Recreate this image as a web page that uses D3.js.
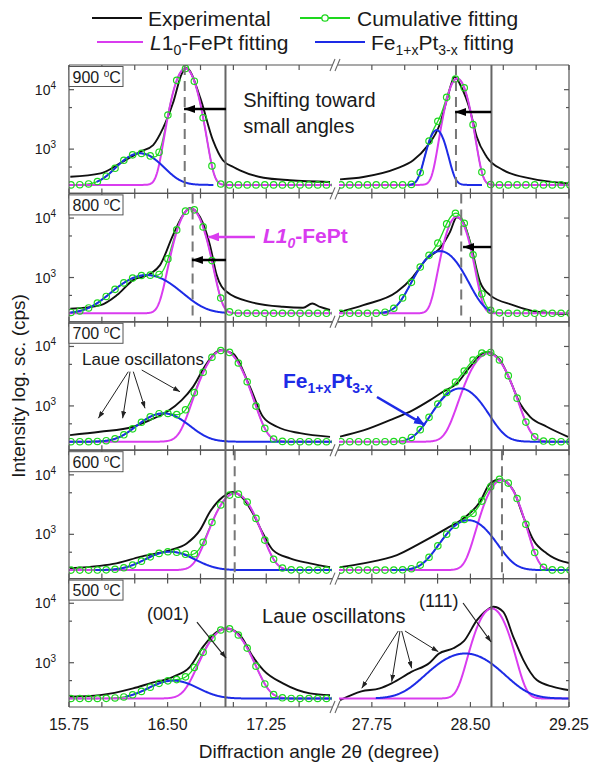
<!DOCTYPE html>
<html>
<head>
<meta charset="utf-8">
<script src="https://cdn.jsdelivr.net/npm/d3@7"></script>
<style>
  body { margin: 0; background: #fff; }
  text { font-family: "Liberation Sans", Arial, sans-serif; fill: #1a1a1a; }
</style>
</head>
<body>
<svg id="chart" width="590" height="765"></svg>
<script>
// ---------------- data ----------------
const panelTemps = ["900", "800", "700", "600", "500"];

// measured XRD scans: [2theta (deg), intensity (cps)]
const exp900L = [[15.76,343],[15.99,390],[16.14,580],[16.29,900],[16.39,1170],[16.465,2250],[16.54,5900],[16.61,19000],[16.645,23000],[16.746,7500],[16.845,1400],[16.92,650],[17.0,500],[17.05,440],[17.23,330],[17.43,300],[17.735,280]];
const exp900R = [[27.508,310],[27.685,340],[27.94,474],[28.065,650],[28.167,1090],[28.269,2700],[28.32,6650],[28.38,16400],[28.43,11200],[28.497,4520],[28.548,1610],[28.624,740],[28.75,444],[28.954,322],[29.243,265]];
const exp800L = [[15.76,298],[15.99,344],[16.115,506],[16.237,905],[16.366,1150],[16.442,1615],[16.541,5170],[16.617,11200],[16.67,14800],[16.746,10400],[16.822,3500],[16.873,1100],[16.949,575],[17.126,390],[17.377,322],[17.53,310],[17.60,365],[17.66,320],[17.735,284]];
const exp800R = [[27.508,265],[27.685,344],[27.941,575],[28.063,1030],[28.17,2095],[28.269,3120],[28.345,5860],[28.396,10300],[28.444,8630],[28.497,3980],[28.573,847],[28.649,506],[28.824,344],[29.007,265],[29.243,242]];
const exp700L = [[15.758,323],[15.986,367],[16.237,446],[16.366,577],[16.495,796],[16.607,1250],[16.693,2095],[16.797,5180],[16.898,8670],[16.997,7620],[17.126,2095],[17.225,656],[17.332,446],[17.507,348],[17.735,302]];
const exp700R = [[27.508,305],[27.685,387],[27.888,577],[28.063,850],[28.193,1250],[28.291,1730],[28.396,2370],[28.497,4540],[28.624,8100],[28.725,5900],[28.801,2715],[28.877,1100],[28.954,656],[29.081,446],[29.243,302]];
const exp600L = [[15.758,270],[15.986,295],[16.11,325],[16.29,418],[16.518,542],[16.645,703],[16.746,1176],[16.822,2390],[16.921,4270],[16.997,5180],[17.073,4010],[17.149,2240],[17.225,1035],[17.301,542],[17.431,394],[17.583,325],[17.735,280]];
const exp600R = [[27.508,280],[27.685,325],[27.941,447],[28.116,703],[28.32,1256],[28.446,1850],[28.573,3520],[28.649,7180],[28.725,8350],[28.826,5500],[28.903,1970],[28.979,800],[29.081,477],[29.207,347],[29.25,330]];
const exp500L = [[15.758,268],[15.986,285],[16.237,370],[16.366,449],[16.541,580],[16.67,854],[16.769,1850],[16.873,3290],[16.949,3770],[17.05,2900],[17.149,1256],[17.228,752],[17.377,449],[17.583,305],[17.735,285]];
const exp500R = [[27.508,235],[27.67,330],[27.81,370],[27.90,450],[28.05,700],[28.19,1000],[28.256,1400],[28.37,1750],[28.45,2300],[28.55,5200],[28.624,7650],[28.674,8720],[28.75,7160],[28.826,2730],[28.903,1106],[29.005,510],[29.131,393],[29.243,347]];
const expLeft = [exp900L, exp800L, exp700L, exp600L, exp500L];
const expRight = [exp900R, exp800R, exp700R, exp600R, exp500R];

// fitted Gaussian peaks on a flat background: [center (deg), amplitude (cps), sigma (deg)]
const background = 250;
const l10Left  = [[16.635,22450,0.068],[16.675,14250,0.078],[16.923,8420,0.113],[17.012,4620,0.110],[16.949,3520,0.120]];
const l10Right = [[28.400,15150,0.062],[28.395,10250,0.067],[28.636,7370,0.112],[28.738,7900,0.095],[28.662,7930,0.090]];
const fptLeft  = [[16.290,600,0.136],[16.340,850,0.190],[16.467,500,0.155],[16.518,260,0.160],[16.543,250,0.160]];
const fptRight = [[28.243,1840,0.056],[28.269,2530,0.127],[28.421,1720,0.137],[28.484,1480,0.142],[28.460,1180,0.200]];
// angular span over which each Fe(1+x)Pt(3-x) fit is drawn
const fptLeftSpan  = [[15.96,16.85],[15.76,16.95],[15.75,17.75],[15.95,17.75],[16.18,17.75]];
const fptRightSpan = [[28.02,28.59],[27.81,28.65],[28.01,29.25],[27.90,29.25],[27.78,29.25]];
const cumulativeShown = [[true,true],[true,true],[true,true],[true,true],[true,false]];

// reference positions (solid) and fitted L1_0 peak positions (dashed)
const refAngles = [16.94, 28.66];
const peakLeft  = [16.63, 16.69, null, 17.01, null];
const peakRight = [28.39, 28.43, null, 28.74, null];

const leftTicks  = [15.75, 16.0, 16.25, 16.5, 16.75, 17.0, 17.25, 17.5];
const rightTicks = [27.75, 28.0, 28.25, 28.5, 28.75, 29.0, 29.25];
const leftLabels  = ["15.75", "16.50", "17.25"];
const rightLabels = ["27.75", "28.50", "29.25"];
const yMajor = [1000, 10000];
const yMinor = [500, 5000];

// ---------------- layout ----------------
const svg = d3.select("#chart");
const plotLeft = 69, plotRight = 569, breakA = 332, breakB = 339;
const firstTop = 65, panelH = 128.4;
const C = { black: "#111", green: "#1ed81e", magenta: "#d93cef", blue: "#1d2be6", frame: "#555" };

const xL = d3.scaleLinear().domain([15.75, 17.75]).range([plotLeft, breakA]);
const xR = d3.scaleLinear().domain([27.5, 29.25]).range([breakB, plotRight]);
const y = d3.scaleLog().domain([180, 26000]).range([panelH, 0]);

const gauss = (p, t) => p[1] * Math.exp(-0.5 * ((t - p[0]) / p[2]) ** 2);
const seq = (a, b, s) => d3.range(a, b + s / 2, s);

const defs = svg.append("defs");
function marker(id, color, len, wid) {
  defs.append("marker").attr("id", id).attr("viewBox", `0 0 ${len} ${wid}`)
    .attr("refX", len).attr("refY", wid / 2).attr("markerWidth", len).attr("markerHeight", wid)
    .attr("markerUnits", "userSpaceOnUse").attr("orient", "auto")
    .append("path").attr("d", `M0,0L${len},${wid / 2}L0,${wid}Z`).attr("fill", color);
}
marker("hBlack", "#000", 11, 8);
marker("hThin", "#222", 7, 5);
marker("hMag", C.magenta, 11, 9);
marker("hBlue", C.blue, 11, 9);

["L", "R"].forEach(s => {
  defs.append("clipPath").attr("id", "clip" + s).append("rect")
    .attr("x", s === "L" ? plotLeft : breakB).attr("y", 0)
    .attr("width", s === "L" ? breakA - plotLeft : plotRight - breakB).attr("height", panelH);
});

const panelTop = i => firstTop + i * panelH;

panelTemps.forEach((temp, i) => {
  const g = svg.append("g").attr("transform", `translate(0,${panelTop(i)})`);
  const sides = [
    { key: "L", x: xL, exp: expLeft[i], l10: l10Left[i], fpt: fptLeft[i], span: fptLeftSpan[i], cum: cumulativeShown[i][0] },
    { key: "R", x: xR, exp: expRight[i], l10: l10Right[i], fpt: fptRight[i], span: fptRightSpan[i], cum: cumulativeShown[i][1] }
  ];
  sides.forEach(sd => {
    const gs = g.append("g").attr("clip-path", `url(#clip${sd.key})`);
    const [d0, d1] = sd.x.domain();
    const line = d3.line().x(d => sd.x(d[0])).y(d => y(d[1]));

    gs.append("path").attr("d", line.curve(d3.curveMonotoneX)(sd.exp))
      .attr("fill", "none").attr("stroke", C.black).attr("stroke-width", 1.9);

    const grid = seq(d0, d1, 0.004);
    const cumPts = grid.map(t => [t, background + gauss(sd.l10, t) + gauss(sd.fpt, t)]);
    if (sd.cum) {
      gs.append("path").attr("d", d3.line().x(d => sd.x(d[0])).y(d => y(d[1]))(cumPts))
        .attr("fill", "none").attr("stroke", C.green).attr("stroke-width", 1.3);
    }
    gs.append("path").attr("d", d3.line().x(d => sd.x(d[0])).y(d => y(d[1]))(grid.map(t => [t, background + gauss(sd.l10, t)])))
      .attr("fill", "none").attr("stroke", C.magenta).attr("stroke-width", 2);
    const fGrid = seq(sd.span[0], sd.span[1], 0.004);
    gs.append("path").attr("d", d3.line().x(d => sd.x(d[0])).y(d => y(d[1]))(fGrid.map(t => [t, background + gauss(sd.fpt, t)])))
      .attr("fill", "none").attr("stroke", C.blue).attr("stroke-width", 2);
    if (sd.cum) {
      const marks = seq(d0 + 0.015, d1, 0.067);
      gs.selectAll("circle.c").data(marks).join("circle")
        .attr("cx", t => sd.x(t)).attr("cy", t => y(background + gauss(sd.l10, t) + gauss(sd.fpt, t)))
        .attr("r", 3.2).attr("fill", "none").attr("stroke", C.green).attr("stroke-width", 1.2);
    }
  });

  // dashed fitted-peak markers
  [[peakLeft[i], xL], [peakRight[i], xR]].forEach(([a, sc]) => {
    if (a == null) return;
    g.append("line").attr("x1", sc(a)).attr("x2", sc(a)).attr("y1", 0).attr("y2", panelH)
      .attr("stroke", "#777").attr("stroke-width", 2).attr("stroke-dasharray", "10,6");
  });

  // frame
  const fr = g.append("g").attr("stroke", C.frame).attr("stroke-width", 1.2).attr("fill", "none");
  fr.append("line").attr("x1", plotLeft).attr("x2", plotLeft).attr("y1", 0).attr("y2", panelH);
  fr.append("line").attr("x1", plotRight).attr("x2", plotRight).attr("y1", 0).attr("y2", panelH);
  [0, panelH].forEach(yy => {
    fr.append("line").attr("x1", plotLeft).attr("x2", breakA + 1).attr("y1", yy).attr("y2", yy);
    fr.append("line").attr("x1", breakB - 1).attr("x2", plotRight).attr("y1", yy).attr("y2", yy);
  });

  // x ticks, top and bottom, pointing inward
  [[leftTicks, xL], [rightTicks, xR]].forEach(([ticks, sc]) => {
    ticks.forEach(t => {
      fr.append("line").attr("x1", sc(t)).attr("x2", sc(t)).attr("y1", panelH).attr("y2", panelH - 5);
      fr.append("line").attr("x1", sc(t)).attr("x2", sc(t)).attr("y1", 0).attr("y2", 5);
    });
  });
  // y ticks, left and right
  yMajor.concat(yMinor).forEach(v => {
    const len = yMajor.includes(v) ? 5 : 3;
    fr.append("line").attr("x1", plotLeft).attr("x2", plotLeft + len).attr("y1", y(v)).attr("y2", y(v));
    fr.append("line").attr("x1", plotRight).attr("x2", plotRight - len).attr("y1", y(v)).attr("y2", y(v));
  });
  yMajor.forEach(v => {
    const t = g.append("text").attr("x", 56).attr("y", y(v) + 5).attr("text-anchor", "end").attr("font-size", 14);
    t.append("tspan").text("10");
    t.append("tspan").attr("font-size", 10).attr("dy", -6).text(String(Math.round(Math.log10(v))));
  });

  // temperature tag
  g.append("rect").attr("x", plotLeft).attr("y", 1.5).attr("width", 54).attr("height", 20)
    .attr("fill", "#fff").attr("stroke", C.frame).attr("stroke-width", 1);
  const tt = g.append("text").attr("x", 72.5).attr("y", 17.5).attr("font-size", 16);
  tt.append("tspan").text(temp + " ");
  tt.append("tspan").attr("font-size", 10).attr("dy", -6).text("o");
  tt.append("tspan").attr("dy", 6).text("C");
});

// axis break marks on every horizontal border
d3.range(6).forEach(k => {
  const yy = firstTop + k * panelH;
  svg.append("rect").attr("x", breakA + 1).attr("y", yy - 2).attr("width", breakB - breakA - 2).attr("height", 4).attr("fill", "#fff");
  [breakA - 2, breakA + 3].forEach(x0 => {
    svg.append("line").attr("x1", x0).attr("y1", yy + 6).attr("x2", x0 + 5).attr("y2", yy - 6)
      .attr("stroke", "#666").attr("stroke-width", 1.1);
  });
});

// solid reference lines through all panels
const yTop = firstTop, yBot = firstTop + 5 * panelH;
[[refAngles[0], xL], [refAngles[1], xR]].forEach(([a, sc]) => {
  svg.append("line").attr("x1", sc(a)).attr("x2", sc(a)).attr("y1", yTop).attr("y2", yBot)
    .attr("stroke", "#666").attr("stroke-width", 2);
});

// x tick labels and titles
[[leftLabels, xL], [rightLabels, xR]].forEach(([labs, sc]) => {
  labs.forEach(l => svg.append("text").attr("x", sc(+l)).attr("y", 730).attr("text-anchor", "middle").attr("font-size", 16).text(l));
});
svg.append("text").attr("x", 319).attr("y", 758).attr("text-anchor", "middle").attr("font-size", 19)
  .text("Diffraction angle 2\u03B8 (degree)");
svg.append("text").attr("transform", `translate(25,${firstTop + 2.5 * panelH}) rotate(-90)`)
  .attr("text-anchor", "middle").attr("font-size", 19).text("Intensity log. sc. (cps)");

// ---------------- annotations (positioned in data coordinates) ----------------
const pt = (i, side, a, v) => [(side === "L" ? xL : xR)(a), panelTop(i) + y(v)];
function arrow(p0, p1, color, w, head) {
  svg.append("line").attr("x1", p0[0]).attr("y1", p0[1]).attr("x2", p1[0]).attr("y2", p1[1])
    .attr("stroke", color).attr("stroke-width", w).attr("marker-end", `url(#${head})`);
}
function label(p, str, size, opts = {}) {
  return svg.append("text").attr("x", p[0]).attr("y", p[1]).attr("font-size", size)
    .attr("font-weight", opts.bold ? "bold" : null).style("fill", opts.color || "#1a1a1a").text(str);
}

// shift arrows
arrow(pt(0, "L", 16.944, 4730), pt(0, "L", 16.625, 4730), "#000", 2.4, "hBlack");
arrow(pt(0, "R", 28.657, 4210), pt(0, "R", 28.383, 4210), "#000", 2.4, "hBlack");
arrow(pt(1, "L", 16.944, 1972), pt(1, "L", 16.685, 1972), "#000", 2.4, "hBlack");
arrow(pt(1, "R", 28.657, 3260), pt(1, "R", 28.444, 3260), "#000", 2.4, "hBlack");
label(pt(0, "L", 17.075, 5180), "Shifting toward", 20);
label(pt(0, "L", 17.075, 1845), "small angles", 20);

// L1_0-FePt label
arrow(pt(1, "L", 17.164, 4810), pt(1, "L", 16.807, 4810), C.magenta, 2.6, "hMag");
{
  const t = label(pt(1, "L", 17.225, 3810), "", 21, { bold: true, color: C.magenta });
  t.append("tspan").attr("font-style", "italic").text("L1");
  t.append("tspan").attr("font-style", "italic").attr("font-size", 14).attr("dy", 5).text("0");
  t.append("tspan").attr("dy", -5).text("-FePt");
}
// Fe(1+x)Pt(3-x) label
{
  const t = label(pt(2, "L", 17.377, 2000), "", 21, { bold: true, color: C.blue });
  t.append("tspan").text("Fe");
  t.append("tspan").attr("font-size", 14).attr("dy", 5).text("1+x");
  t.append("tspan").attr("dy", -5).text("Pt");
  t.append("tspan").attr("font-size", 14).attr("dy", 5).text("3-x");
}
arrow(pt(2, "R", 27.789, 1413), pt(2, "R", 28.154, 477), C.blue, 2.6, "hBlue");

// Laue oscillations, 700 C
label(pt(2, "L", 15.849, 4880), "Laue oscillatons", 17);
[[16.201, 3770, 15.973, 620], [16.214, 3770, 16.158, 620], [16.239, 3770, 16.328, 912], [16.303, 4020, 16.594, 1733]]
  .forEach(a => arrow(pt(2, "L", a[0], a[1]), pt(2, "L", a[2], a[3]), "#222", 1, "hThin"));

// 500 C annotations
label(pt(4, "L", 16.343, 5240), "(001)", 18);
arrow(pt(4, "L", 16.723, 4840), pt(4, "L", 16.944, 1200), "#222", 1.2, "hThin");
label(pt(4, "L", 17.218, 4660), "Laue oscillatons", 20);
label(pt(4, "R", 28.109, 8750), "(111)", 18);
arrow(pt(4, "R", 28.444, 10100), pt(4, "R", 28.657, 2230), "#222", 1.2, "hThin");
[[27.951, 27.673, 371], [27.964, 27.901, 480], [27.977, 28.053, 805], [28.002, 28.256, 1530]]
  .forEach(a => arrow(pt(4, "R", a[0], 3420), pt(4, "R", a[1], a[2]), "#222", 1, "hThin"));

// ---------------- legend ----------------
const lg = svg.append("g");
function legLine(x1, x2, yy, color) {
  lg.append("line").attr("x1", x1).attr("x2", x2).attr("y1", yy).attr("y2", yy).attr("stroke", color).attr("stroke-width", 2);
}
legLine(92, 142, 18, C.black);
lg.append("text").attr("x", 148).attr("y", 26).attr("font-size", 21).text("Experimental");
legLine(300, 350, 18, C.green);
lg.append("circle").attr("cx", 325).attr("cy", 18).attr("r", 3.2).attr("fill", "#fff").attr("stroke", C.green).attr("stroke-width", 1.3);
lg.append("text").attr("x", 357).attr("y", 26).attr("font-size", 21).text("Cumulative fitting");
legLine(97, 143, 42, C.magenta);
{
  const t = lg.append("text").attr("x", 150).attr("y", 50).attr("font-size", 21);
  t.append("tspan").attr("font-style", "italic").text("L");
  t.append("tspan").text("1");
  t.append("tspan").attr("font-size", 14).attr("dy", 5).text("0");
  t.append("tspan").attr("dy", -5).text("-FePt fitting");
}
legLine(315, 365, 42, C.blue);
{
  const t = lg.append("text").attr("x", 371).attr("y", 50).attr("font-size", 21);
  t.append("tspan").text("Fe");
  t.append("tspan").attr("font-size", 14).attr("dy", 5).text("1+x");
  t.append("tspan").attr("dy", -5).text("Pt");
  t.append("tspan").attr("font-size", 14).attr("dy", 5).text("3-x");
  t.append("tspan").attr("dy", -5).text(" fitting");
}
</script>
</body>
</html>
